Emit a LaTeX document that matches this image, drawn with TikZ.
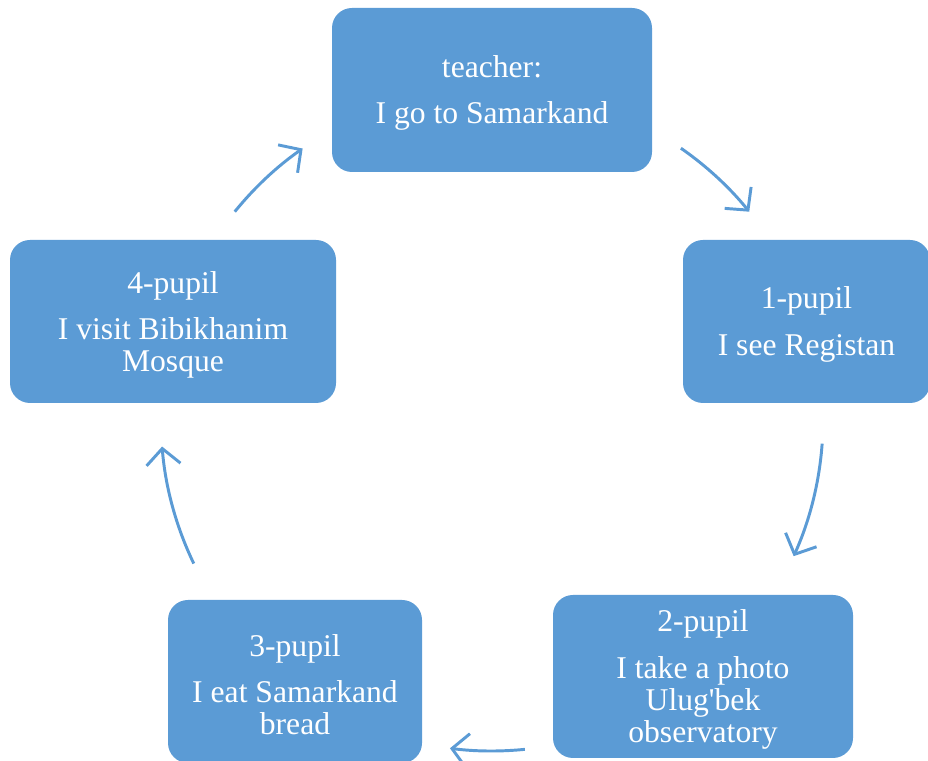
\documentclass[tikz,border=0pt]{standalone}
\usepackage{fontspec}
\setmainfont{Liberation Serif}
\usetikzlibrary{arrows.meta}
\usetikzlibrary{calc}

\definecolor{boxblue}{RGB}{91,155,213}
\newcommand{\firststrut}{\rule{0pt}{19.8pt}}

\begin{document}
\begin{tikzpicture}[
  pupilbox/.style={fill=boxblue, draw=none, rounded corners=0.5cm, text=white, align=center,
    font=\fontsize{22.5}{22.75}\selectfont, inner sep=0pt},
  cyclearrow/.style={draw=boxblue, line width=2.1pt, -{Straight Barb[length=4mm,width=8.5mm]}}
]
\useasboundingbox (0,0) rectangle (23.2,19.025);
\clip (0,0) rectangle (23.2,19.025);

\node[pupilbox, minimum width=8cm, minimum height=4.1cm] (teacher) at (12.3,16.775) {\firststrut teacher:\\[10pt]I go to Samarkand};
\node[pupilbox, minimum width=6.175cm, minimum height=4.075cm] (p1) at (20.1625,10.9875) {\firststrut 1-pupil\\[10pt]I see Registan};
\node[pupilbox, minimum width=7.5cm, minimum height=4.075cm] (p2) at (17.575,2.1125) {\firststrut 2-pupil\\[10pt]I take a photo\\Ulug\textquotesingle bek\\observatory};
\node[pupilbox, minimum width=6.35cm, minimum height=4.075cm] (p3) at (7.375,1.9875) {\firststrut 3-pupil\\[10pt]I eat Samarkand\\bread};
\node[pupilbox, minimum width=8.15cm, minimum height=4.075cm] (p4) at (4.325,10.9875) {\firststrut 4-pupil\\[10pt]I visit Bibikhanim\\Mosque};

%%% arrows round the cycle
\coordinate (c) at (12.3,8.525);
\coordinate (a1) at ($(c)+(55.2:8.275)$);
\coordinate (a2) at ($(c)+(-4.1:8.275)$);
\coordinate (a3) at ($(c)+(-84.3:8.275)$);
\coordinate (a4) at ($(c)+(205.7:8.275)$);
\coordinate (a5) at ($(c)+(141:8.275)$);

\draw[cyclearrow] (a1) arc[start angle=55.2, end angle=39, radius=8.275];
\draw[cyclearrow] (a2) arc[start angle=-4.1, end angle=-24.3, radius=8.275];
\draw[cyclearrow] (a3) arc[start angle=-84.3, end angle=-97.3, radius=8.275];
\draw[cyclearrow] (a4) arc[start angle=205.7, end angle=184.6, radius=8.275];
\draw[cyclearrow] (a5) arc[start angle=141, end angle=124.9, radius=8.275];
\end{tikzpicture}
\end{document}
